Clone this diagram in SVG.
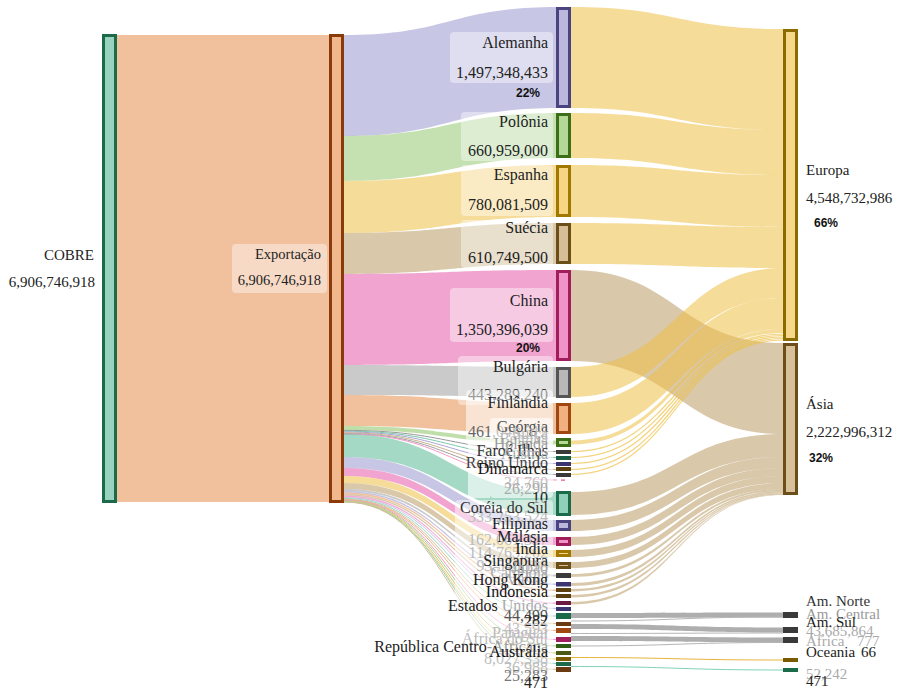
<svg xmlns="http://www.w3.org/2000/svg" width="899" height="693" viewBox="0 0 899 693">
<style>
  .lbl { font-family: "Liberation Serif", "Times New Roman", serif; font-size: 16px; fill: #222; }
  .lr { font-family: "Liberation Serif", "Times New Roman", serif; font-size: 15px; fill: #222; }
  .pct { font-family: "Liberation Sans", Arial, sans-serif; font-size: 12px; font-weight: bold; fill: #111; }
  .end { text-anchor: end; }
  .box { fill: #fff; fill-opacity: .42; }
  .haze { fill: #fff; fill-opacity: .6; }
  .node { stroke-width: 3; }
  .eu { fill: rgb(238,192,70); fill-opacity: .55; }
  .as { fill: rgb(180,145,85); fill-opacity: .5; }
  .eus { fill: none; stroke: rgb(238,192,70); stroke-opacity: .7; stroke-width: 1.2; }
  .ass { fill: none; stroke: rgb(180,145,85); stroke-opacity: .6; stroke-width: 1.2; }
  .gr { fill: rgb(120,120,120); fill-opacity: .6; }
  .th { fill: none; stroke-width: 1; }
</style>

<!-- connectors -->
<g id="links">
  <!-- COBRE -> Exportação -->
  <path d="M117 35 L329 35 L329 502 L117 502 Z" fill="rgb(228,130,60)" fill-opacity=".5"/>

  <!-- Exportação -> countries -->
  <path d="M344 35 C450.5 35 450.5 7 557 7 L557 108 C450.5 108 450.5 136 344 136 Z" fill="rgb(150,145,205)" fill-opacity=".52"/>
  <path d="M344 136 C450.5 136 450.5 113 557 113 L557 158 C450.5 158 450.5 181 344 181 Z" fill="rgb(140,195,100)" fill-opacity=".5"/>
  <path d="M344 181 C450.5 181 450.5 165 557 165 L557 217 C450.5 217 450.5 233 344 233 Z" class="eu"/>
  <path d="M344 233 C450.5 233 450.5 223 557 223 L557 264 C450.5 264 450.5 274 344 274 Z" class="as"/>
  <path d="M344 274 C450.5 274 450.5 270 557 270 L557 361 C450.5 361 450.5 365 344 365 Z" fill="rgb(230,90,170)" fill-opacity=".55"/>
  <path d="M344 365 C450.5 365 450.5 367 557 367 L557 397 C450.5 397 450.5 395 344 395 Z" fill="rgb(150,150,150)" fill-opacity=".5"/>
  <path d="M344 395 C450.5 395 450.5 403 557 403 L557 434 C450.5 434 450.5 426 344 426 Z" fill="rgb(228,130,60)" fill-opacity=".5"/>
  <path d="M344 426 C450.5 426 450.5 440.5 557 440.5 L557 444.5 C450.5 444.5 450.5 430 344 430 Z" fill="rgb(140,195,100)" fill-opacity=".55"/>
  <path d="M344 430.4 C450.5 430.4 450.5 451.5 557 451.5" class="th" stroke="#999"/>
  <path d="M344 431.2 C450.5 431.2 450.5 457.5 557 457.5" class="th" stroke="#7cc6ad"/>
  <path d="M344 432 C450.5 432 450.5 463.5 557 463.5" class="th" stroke="#a9a5d6"/>
  <path d="M344 432.8 C450.5 432.8 450.5 469.5 557 469.5" class="th" stroke="#cdb38a"/>
  <path d="M344 433.6 C450.5 433.6 450.5 474.5 557 474.5" class="th" stroke="#a0a0a0"/>
  <path d="M344 434 C450.5 434 450.5 480 557 480" class="th" stroke="#f09ac8" stroke-width=".6"/>
  <path d="M344 434 C450.5 434 450.5 492 557 492 L557 515 C450.5 515 450.5 457 344 457 Z" fill="rgb(90,185,150)" fill-opacity=".55"/>
  <path d="M344 457 C450.5 457 450.5 520 557 520 L557 531 C450.5 531 450.5 468 344 468 Z" fill="rgb(150,145,205)" fill-opacity=".52"/>
  <path d="M344 468 C450.5 468 450.5 537 557 537 L557 545 C450.5 545 450.5 476 344 476 Z" fill="rgb(230,90,170)" fill-opacity=".55"/>
  <path d="M344 476 C450.5 476 450.5 550 557 550 L557 557 C450.5 557 450.5 483 344 483 Z" class="eu"/>
  <path d="M344 483 C450.5 483 450.5 562 557 562 L557 568 C450.5 568 450.5 489 344 489 Z" class="as"/>
  <path d="M344 489 C450.5 489 450.5 574.5 557 574.5 L557 576.5 C450.5 576.5 450.5 491 344 491 Z" fill="rgb(150,150,150)" fill-opacity=".5"/>
  <path d="M344 491 C450.5 491 450.5 583.5 557 583.5 L557 585 C450.5 585 450.5 492.5 344 492.5 Z" fill="rgb(150,145,205)" fill-opacity=".55"/>
  <path d="M344 492.5 C450.5 492.5 450.5 589.5 557 589.5 L557 591 C450.5 591 450.5 494 344 494 Z" fill="rgb(228,130,60)" fill-opacity=".5"/>
  <path d="M344 494 C450.5 494 450.5 595.5 557 595.5 L557 597 C450.5 597 450.5 495.5 344 495.5 Z" class="as"/>
  <path d="M344 495.5 C450.5 495.5 450.5 602.5 557 602.5 L557 604 C450.5 604 450.5 497 344 497 Z" fill="rgb(230,90,170)" fill-opacity=".5"/>
  <path d="M344 497 C450.5 497 450.5 608 557 608 L557 609 C450.5 609 450.5 498 344 498 Z" fill="rgb(150,145,205)" fill-opacity=".55"/>
  <path d="M344 498 C450.5 498 450.5 615.5 557 615.5 L557 616.5 C450.5 616.5 450.5 499 344 499 Z" fill="rgb(90,185,150)" fill-opacity=".6"/>
  <path d="M344 499.4 C450.5 499.4 450.5 623.5 557 623.5" class="th" stroke="#d6be96"/>
  <path d="M344 499.9 C450.5 499.9 450.5 630.5 557 630.5" class="th" stroke="#f0b080"/>
  <path d="M344 500.4 C450.5 500.4 450.5 639.5 557 639.5" class="th" stroke="#f09ac8"/>
  <path d="M344 500.9 C450.5 500.9 450.5 646 557 646" class="th" stroke="#a8d58a"/>
  <path d="M344 501.3 C450.5 501.3 450.5 653 557 653" class="th" stroke="#d6c080"/>
  <path d="M344 501.6 C450.5 501.6 450.5 659 557 659" class="th" stroke="#f0d070"/>
  <path d="M344 501.8 C450.5 501.8 450.5 663.5 557 663.5" class="th" stroke="#8fd0b8"/>
  <path d="M344 502 C450.5 502 450.5 669.5 557 669.5" class="th" stroke="#d6be96"/>

  <!-- countries -> Europa -->
  <path d="M571 7 C677 7 677 29 783 29 L783 130 C677 130 677 108 571 108 Z" class="eu"/>
  <path d="M571 113 C677 113 677 130 783 130 L783 175 C677 175 677 158 571 158 Z" class="eu"/>
  <path d="M571 165 C677 165 677 175 783 175 L783 227 C677 227 677 217 571 217 Z" class="eu"/>
  <path d="M571 223 C677 223 677 227 783 227 L783 268 C677 268 677 264 571 264 Z" class="eu"/>

  <!-- countries -> Ásia -->
  <path d="M571 270 C677 270 677 343 783 343 L783 434 C677 434 677 361 571 361 Z" class="as"/>

  <path d="M571 367 C677 367 677 268 783 268 L783 298 C677 298 677 397 571 397 Z" class="eu"/>
  <path d="M571 403 C677 403 677 298 783 298 L783 329 C677 329 677 434 571 434 Z" class="eu"/>
  <path d="M571 440.5 C677 440.5 677 329 783 329 L783 333 C677 333 677 444.5 571 444.5 Z" class="eu"/>
  <path d="M571 451.5 C677 451.5 677 334 783 334" class="eus"/>
  <path d="M571 457.5 C677 457.5 677 335.5 783 335.5" class="eus"/>
  <path d="M571 463.5 C677 463.5 677 337 783 337" class="eus"/>
  <path d="M571 469.5 C677 469.5 677 338.5 783 338.5" class="eus"/>
  <path d="M571 474.5 C677 474.5 677 340 783 340" class="eus"/>

  <path d="M571 492 C677 492 677 434 783 434 L783 457 C677 457 677 515 571 515 Z" class="as"/>
  <path d="M571 520 C677 520 677 457 783 457 L783 468 C677 468 677 531 571 531 Z" class="as"/>
  <path d="M571 537 C677 537 677 468 783 468 L783 476 C677 476 677 545 571 545 Z" class="as"/>
  <path d="M571 550 C677 550 677 476 783 476 L783 483 C677 483 677 557 571 557 Z" class="as"/>
  <path d="M571 562 C677 562 677 483 783 483 L783 489 C677 489 677 568 571 568 Z" class="as"/>
  <path d="M571 574 C677 574 677 489 783 489 L783 491 C677 491 677 577 571 577 Z" class="as"/>
  <path d="M571 583 C677 583 677 491 783 491 L783 492.5 C677 492.5 677 586 571 586 Z" class="as"/>
  <path d="M571 589 C677 589 677 492.5 783 492.5 L783 493.5 C677 493.5 677 591.5 571 591.5 Z" class="as"/>
  <path d="M571 595 C677 595 677 493.5 783 493.5 L783 494.5 C677 494.5 677 597.5 571 597.5 Z" class="as"/>
  <path d="M571 602 C677 602 677 494.5 783 494.5 L783 495 C677 495 677 604.5 571 604.5 Z" class="as"/>

  <!-- countries -> other regions -->
  <path d="M571 613 C677 613 677 612.5 783 612.5 L783 617.5 C677 617.5 677 618 571 618 Z" class="gr"/>
  <path d="M571 624 C677 624 677 627.5 783 627.5 L783 632.5 C677 632.5 677 629 571 629 Z" class="gr"/>
  <path d="M571 636 C677 636 677 637.5 783 637.5 L783 642.5 C677 642.5 677 641 571 641 Z" class="gr"/>
  <path d="M571 621 C677 621 677 617 783 617" class="th" stroke="#b5b5b5"/>
  <path d="M571 633.5 C677 633.5 677 633 783 633" class="th" stroke="#b5b5b5"/>
  <path d="M571 646 C677 646 677 642.5 783 642.5" class="th" stroke="#b5b5b5"/>
  <path d="M571 657.5 C677 657.5 677 660 783 660" class="th" stroke="#e6b43a" stroke-width="1.5"/>
  <path d="M571 666.5 C677 666.5 677 670 783 670" class="th" stroke="#7fd3b5" stroke-width="1.5"/>
</g>

<!-- source and middle stage -->
<g id="node-cobre">
  <rect class="node" x="103.5" y="35.5" width="12" height="466" fill="#99d3c0" stroke="#1b6b4a"/>
  <text class="lr end" x="94" y="260">COBRE</text>
  <text class="lr end" x="95" y="287">6,906,746,918</text>
</g>
<g id="node-exportacao">
  <rect class="node" x="330.5" y="35.5" width="12" height="466" fill="#f0b88c" stroke="#8b3a0a"/>
  <rect class="box" x="232" y="244" width="95" height="49" rx="4"/>
  <text class="lbl end" x="321" y="259" style="font-size:14.5px">Exportação</text>
  <text class="lbl end" x="321" y="285" style="font-size:14.5px">6,906,746,918</text>
</g>

<!-- countries -->
<g id="node-alemanha">
  <rect class="node" x="557.5" y="8.5" width="12" height="98" fill="#bcb8dc" stroke="#4a4580"/>
  <rect class="box" x="450" y="32" width="103" height="51" rx="4"/>
  <text class="lbl end" x="548" y="48">Alemanha</text>
  <text class="lbl end" x="548" y="78">1,497,348,433</text>
  <text class="pct end" x="540" y="97">22%</text>
</g>
<g id="node-polonia">
  <rect class="node" x="557.5" y="114.5" width="12" height="42" fill="#b4d898" stroke="#3d6e18"/>
  <rect class="box" x="461" y="112" width="92" height="49" rx="4"/>
  <text class="lbl end" x="548" y="127">Polônia</text>
  <text class="lbl end" x="548" y="156">660,959,000</text>
</g>
<g id="node-espanha">
  <rect class="node" x="557.5" y="166.5" width="12" height="49" fill="#f6d685" stroke="#a07800"/>
  <rect class="box" x="461" y="165" width="92" height="51" rx="4"/>
  <text class="lbl end" x="548" y="180">Espanha</text>
  <text class="lbl end" x="548" y="210">780,081,509</text>
</g>
<g id="node-suecia">
  <rect class="node" x="557.5" y="224.5" width="12" height="38" fill="#d6be96" stroke="#6b4e18"/>
  <rect class="box" x="461" y="220" width="92" height="48" rx="4"/>
  <text class="lbl end" x="548" y="233">Suécia</text>
  <text class="lbl end" x="548" y="263">610,749,500</text>
</g>
<g id="node-china">
  <rect class="node" x="557.5" y="271.5" width="12" height="88" fill="#f093c6" stroke="#a01e5c"/>
  <rect class="box" x="450" y="288" width="103" height="54" rx="4"/>
  <text class="lbl end" x="548" y="306">China</text>
  <text class="lbl end" x="548" y="335">1,350,396,039</text>
  <text class="pct end" x="540" y="352">20%</text>
</g>
<g id="node-bulgaria">
  <rect class="node" x="557.5" y="368.5" width="12" height="28" fill="#b8b8b8" stroke="#555"/>
  <rect class="box" x="458" y="356" width="95" height="49" rx="4"/>
  <text class="lbl end" x="548" y="372">Bulgária</text>
  <text class="lbl end" x="548" y="400">443,289,240</text>
</g>
<g id="node-finlandia">
  <rect class="node" x="557.5" y="404.5" width="12" height="28" fill="#f0b080" stroke="#a04810"/>
  <rect class="box" x="466" y="390" width="87" height="55" rx="4" style="fill-opacity:.55"/>
  <text class="lbl end" x="548" y="408">Finlândia</text>
  <text class="lbl end" x="548" y="437" style="fill:#666">461,046,512</text>
</g>

<!-- small European partners -->
<g id="node-georgia">
  <rect class="node" x="557.5" y="439.5" width="12" height="6" fill="#b4d898" stroke="#3d6e18"/>
  <rect class="haze" x="490" y="418" width="63" height="80" rx="4"/>
  <rect class="haze" x="468" y="440" width="22" height="58"/>
  <text class="lbl end" x="548" y="432" style="fill:#555">Geórgia</text>
</g>
<g id="node-suica">
  <rect class="node" x="557.5" y="451.5" width="12" height="1" fill="#888" stroke="#3a3a3a"/>
  <text class="lbl end" x="548" y="439" style="fill:#b5b5b5">Suiça</text>
</g>
<g id="node-belgica">
  <rect class="node" x="557.5" y="457.5" width="12" height="1" fill="#5aa88a" stroke="#1b5e46"/>
  <text class="lbl end" x="548" y="444" style="fill:#bbb">Bélgica</text>
</g>
<g id="node-holanda">
  <rect class="node" x="557.5" y="463.5" width="12" height="1" fill="#6a66a0" stroke="#3a3570"/>
  <text class="lbl end" x="548" y="449" style="fill:#9a9a9a">Holanda</text>
</g>
<g id="node-faroe">
  <rect class="node" x="557.5" y="468.5" width="12" height="1" fill="#8a6a30" stroke="#5a4010"/>
  <text class="lbl end" x="548" y="456" style="fill:#333">Faroé Ilhas</text>
</g>
<g id="node-austria">
  <rect class="node" x="557.5" y="474.5" width="12" height="1" fill="#666" stroke="#3a3a3a"/>
  <text class="lbl end" x="548" y="459" style="fill:#aaa">Áustria</text>
</g>
<g id="node-reino-unido">
  <rect x="561" y="479.5" width="4" height="1.2" fill="#e05090"/>
  <text class="lbl end" x="548" y="468" style="fill:#444">Reino Unido</text>
</g>
<g id="node-dinamarca">
  <text class="lbl end" x="548" y="474" style="fill:#111">Dinamarca</text>
  <text class="lbl end" x="548" y="488" style="fill:#c0c0c0">34,760</text>
  <text class="lbl end" x="548" y="494" style="fill:#aaa">26,290</text>
  <text class="lbl end" x="548" y="503">10</text>
</g>

<!-- Asian partners -->
<g id="node-coreia">
  <rect class="node" x="557.5" y="492.5" width="12" height="22" fill="#8fd0b8" stroke="#1b6b4a"/>
  <rect class="haze" x="455" y="500" width="98" height="100" rx="4" style="fill-opacity:.5"/>
  <text class="lbl end" x="548" y="522" style="fill:#bbb">333,253,524</text>
  <text class="lbl end" x="548" y="513" style="fill:#333">Coréia do Sul</text>
</g>
<g id="node-filipinas">
  <rect class="node" x="557.5" y="521.5" width="12" height="8" fill="#bcb8dc" stroke="#4a4580"/>
  <text class="lbl end" x="548" y="529">Filipinas</text>
</g>
<g id="node-malasia">
  <rect class="node" x="557.5" y="538.5" width="12" height="6" fill="#f093c6" stroke="#a01e5c"/>
  <text class="lbl end" x="548" y="545" style="fill:#bbb">162,061,337</text>
  <text class="lbl end" x="548" y="542">Malásia</text>
</g>
<g id="node-india">
  <rect class="node" x="557.5" y="551.5" width="12" height="4" fill="#f6d685" stroke="#a07800"/>
  <text class="lbl end" x="548" y="558" style="fill:#bbb">114,765,202</text>
  <text class="lbl end" x="548" y="554">Índia</text>
</g>
<g id="node-singapura">
  <rect class="node" x="557.5" y="563.5" width="12" height="4" fill="#d6be96" stroke="#6b4e18"/>
  <text class="lbl end" x="548" y="571" style="fill:#bbb">93,540,118</text>
  <text class="lbl end" x="548" y="566">Singapura</text>
</g>
<g id="node-japao">
  <rect class="node" x="557.5" y="574.5" width="12" height="2" fill="#777" stroke="#3a3a3a"/>
  <text class="lbl end" x="548" y="573" style="fill:#aaa">Japão</text>
</g>
<g id="node-camboja">
  <rect class="node" x="557.5" y="583.5" width="12" height="1.5" fill="#6a66a0" stroke="#3a3570"/>
  <text class="lbl end" x="548" y="578" style="fill:#aaa">Camboja</text>
</g>
<g id="node-vietna">
  <rect class="node" x="557.5" y="589.5" width="12" height="1" fill="#8a6a30" stroke="#5a4010"/>
  <text class="lbl end" x="548" y="585" style="fill:#aaa">Vietnã</text>
</g>
<g id="node-hong-kong">
  <rect class="node" x="557.5" y="595.5" width="12" height="1" fill="#8a6a30" stroke="#5a4010"/>
  <text class="lbl end" x="548" y="585">Hong Kong</text>
</g>
<g id="node-indonesia">
  <rect class="node" x="557.5" y="602.5" width="12" height="1" fill="#a03060" stroke="#6a1a40"/>
  <text class="lbl end" x="548" y="597" style="fill:#111">Indonesia</text>
</g>

<!-- Americas, Africa, Oceania partners -->
<g id="node-estados-unidos">
  <rect class="node" x="557.5" y="608.5" width="12" height="1" fill="#5a5690" stroke="#3a3570"/>
  <rect class="haze" x="440" y="600" width="113" height="92" rx="4" style="fill-opacity:.55"/>
  <text class="lbl end" x="548" y="611"><tspan>Estados </tspan><tspan style="fill:#aaa">Unidos</tspan></text>
</g>
<g id="node-44499">
  <rect class="node" x="557.5" y="614.5" width="12" height="3" fill="#3aa080" stroke="#1b6b4a"/>
  <text class="lbl end" x="548" y="621" style="fill:#555">44,499</text>
</g>
<g id="node-282">
  <rect class="node" x="557.5" y="623.5" width="12" height="1" fill="#8a5a20" stroke="#6a3a10"/>
  <text class="lbl end" x="548" y="626">282</text>
</g>
<g id="node-paraguai">
  <rect class="node" x="557.5" y="629.5" width="12" height="2" fill="#e07020" stroke="#a04810"/>
  <text class="lbl end" x="548" y="634" style="fill:#c0c0c0">43,593</text>
  <text class="lbl end" x="548" y="638" style="fill:#bbb">Paraguai</text>
</g>
<g id="node-africa-do-sul">
  <rect class="node" x="557.5" y="638.5" width="12" height="2" fill="#d03080" stroke="#a01e5c"/>
  <text class="lbl end" x="548" y="644" style="fill:#bbb">África do Sul</text>
</g>
<g id="node-rep-centro-africana">
  <rect class="node" x="557.5" y="645.5" width="12" height="1" fill="#4a8a30" stroke="#2d5e14"/>
  <text class="lbl end" x="548" y="652"><tspan>República Centro</tspan><tspan style="fill:#999">-Africana</tspan></text>
</g>
<g id="node-australia">
  <rect class="node" x="557.5" y="652.5" width="12" height="1" fill="#6a7a30" stroke="#4a5a14"/>
  <text class="lbl end" x="548" y="664" style="fill:#c0c0c0">8,027,338</text>
  <text class="lbl end" x="548" y="657" style="fill:#111">Austrália</text>
</g>
<g id="node-small-a">
  <rect class="node" x="557.5" y="658.5" width="12" height="1" fill="#a07820" stroke="#7a5a00"/>
  <text class="lbl end" x="548" y="673" style="fill:#bbb">36,988</text>
</g>
<g id="node-small-b">
  <rect class="node" x="557.5" y="663.5" width="12" height="1" fill="#3aa080" stroke="#1b6b4a"/>
  <text class="lbl end" x="548" y="681" style="fill:#777">25,283</text>
</g>
<g id="node-small-c">
  <rect class="node" x="557.5" y="668.5" width="12" height="2" fill="#8a5a20" stroke="#6a3a10"/>
  <text class="lbl end" x="548" y="688">471</text>
</g>

<!-- regions -->
<g id="node-europa">
  <rect class="node" x="784.5" y="30.5" width="12" height="309" fill="#f5d88a" stroke="#8b6a00"/>
  <text class="lr" x="806" y="175">Europa</text>
  <text class="lr" x="806" y="203">4,548,732,986</text>
  <text class="pct" x="814" y="227">66%</text>
</g>
<g id="node-asia">
  <rect class="node" x="784.5" y="344.5" width="12" height="149" fill="#d8c09a" stroke="#6b4e18"/>
  <text class="lr" x="806" y="409">Ásia</text>
  <text class="lr" x="806" y="437">2,222,996,312</text>
  <text class="pct" x="809" y="462">32%</text>
</g>
<g id="node-am-norte">
  <rect class="node" x="784.5" y="613.5" width="12" height="3" fill="#888" stroke="#3a3a3a"/>
  <text class="lr" x="806" y="606" style="fill:#333">Am. Norte</text>
</g>
<g id="node-am-central">
  <rect class="node" x="784.5" y="628.5" width="12" height="3" fill="#888" stroke="#3a3a3a"/>
  <text class="lr" x="806" y="619" style="fill:#999">Am. Central</text>
</g>
<g id="node-am-sul">
  <rect class="node" x="784.5" y="638.5" width="12" height="3" fill="#888" stroke="#3a3a3a"/>
  <text class="lr" x="806" y="636" style="fill:#aaa">43,685,864</text>
  <text class="lr" x="806" y="627">Am. Sul</text>
</g>
<g id="node-africa">
  <text class="lr" x="806" y="646" style="fill:#aaa">África</text>
  <text class="lr" x="857" y="646" style="fill:#aaa">777</text>
</g>
<g id="node-oceania">
  <rect class="node" x="784.5" y="659.5" width="12" height="1" fill="#c9a040" stroke="#7a5a00"/>
  <text class="lr" x="806" y="657">Oceania</text>
  <text class="lr" x="861" y="657">66</text>
</g>
<g id="node-other">
  <rect class="node" x="784.5" y="669.5" width="12" height="1" fill="#7fd3b5" stroke="#1b6b4a"/>
  <text class="lr" x="806" y="679" style="fill:#aaa">52,242</text>
  <text class="lr" x="806" y="686">471</text>
</g>
</svg>
